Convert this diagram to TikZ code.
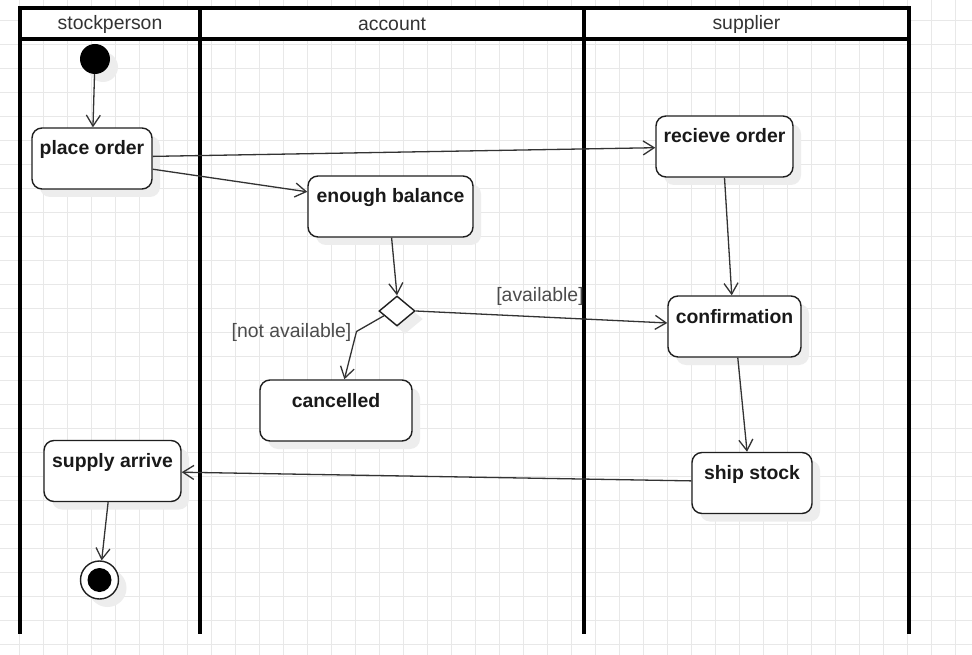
\documentclass[tikz,border=0pt]{standalone}
\usepackage{fontspec}
\setmainfont{Liberation Sans}
\usetikzlibrary{arrows.meta,shapes.geometric,shadows,calc}
\begin{document}
\begin{tikzpicture}[x=1pt,y=-1pt,
  gridline/.style={draw=black!9, line width=1.2pt},
  lane/.style={line width=3.5pt, line cap=rect},
  lanetitle/.style={font=\fontsize{19.4}{22}\selectfont, text=black!80, inner sep=0pt},
  shadowed/.style={drop shadow={shadow xshift=8pt, shadow yshift=-8pt, fill=black!7, opacity=1}},
  action/.style={draw=black!88, line width=1.4pt, rounded corners=10pt, fill=white, shadowed,
    inner xsep=0pt, inner ysep=0pt, text height=27pt, text depth=34pt,
    font=\bfseries\fontsize{19.4}{22}\selectfont, text=black!90, align=center},
  flow/.style={draw=black!80, line width=1.3pt,
    -{Straight Barb[length=11pt,width=14pt,line width=1.3pt]}},
  guard/.style={font=\fontsize{19.4}{22}\selectfont, text=black!70, inner sep=0pt},
]
\useasboundingbox (0,0) rectangle (972,655);
\clip (0,0) rectangle (972,655);
\fill[white] (0,0) rectangle (972,655);

% background grid
\foreach \i in {0,...,39} \draw[gridline] (19.3+24*\i,0) -- (19.3+24*\i,655);
\foreach \j in {0,...,26} \draw[gridline] (0,20.7+24*\j) -- (972,20.7+24*\j);

% swimlanes
\fill[white] (20,8) rectangle (909,39);
\draw[lane] (20,8) -- (909,8);
\draw[lane] (20,39) -- (909,39);
\foreach \x in {20,200,584,909} \draw[lane] (\x,8) -- (\x,632);
\node[lanetitle] (t1) at (110,24.5) {stockperson};
\node[lanetitle] (t2) at (392,24.5) {account};
\node[lanetitle] (t3) at (746.5,24.5) {supplier};

% start and end
\node[circle, fill=black, minimum size=30pt, inner sep=0pt, shadowed] (init) at (95,59) {};
\node[circle, draw=black!88, line width=1.4pt, fill=white, minimum size=38pt, inner sep=0pt, shadowed] (final) at (99.5,580) {};
\node[circle, fill=black, minimum size=24pt, inner sep=0pt] (finaldot) at (final.center) {};

% actions
\node[action, minimum width=120pt] (place) at (92,158.5) {place order};
\node[action, minimum width=165pt] (enough) at (390.5,206.5) {enough balance};
\node[action, minimum width=137pt] (recv) at (724.5,146.5) {recieve order};
\node[action, minimum width=133pt] (conf) at (734.5,326.5) {confirmation};
\node[action, minimum width=152pt] (canc) at (336,410.5) {cancelled};
\node[action, minimum width=137pt] (supply) at (112.5,471) {supply arrive};
\node[action, minimum width=120pt] (ship) at (752,483) {ship stock};

% decision
\node[diamond, draw=black!88, line width=1.4pt, fill=white, shadowed, inner sep=0pt,
  minimum width=36pt, minimum height=30pt] (dia) at (397,311) {};
\coordinate (bend) at (356.5,331.5);

% guards
\node[guard] (gav) at (540,296.5) {[available]};
\node[guard] (gna) at (291.5,332.5) {[not available]};

% flows
\draw[flow] (init) -- (place);
\draw[flow] (place.2) -- (recv.181);
\draw[flow] (place.350) -- (enough.170);
\draw[flow] (enough.272) -- (dia.north);
\draw[flow] (dia.east) -- (conf.177);
\draw[flow] (dia.200) -- (bend) -- (canc.75);
\draw[flow] (recv.south) -- (conf.95);
\draw[flow] (conf.276) -- (ship.99);
\draw[flow] (ship.178) -- (supply.359);
\draw[flow] (supply.262) -- (final);
\end{tikzpicture}
\end{document}
